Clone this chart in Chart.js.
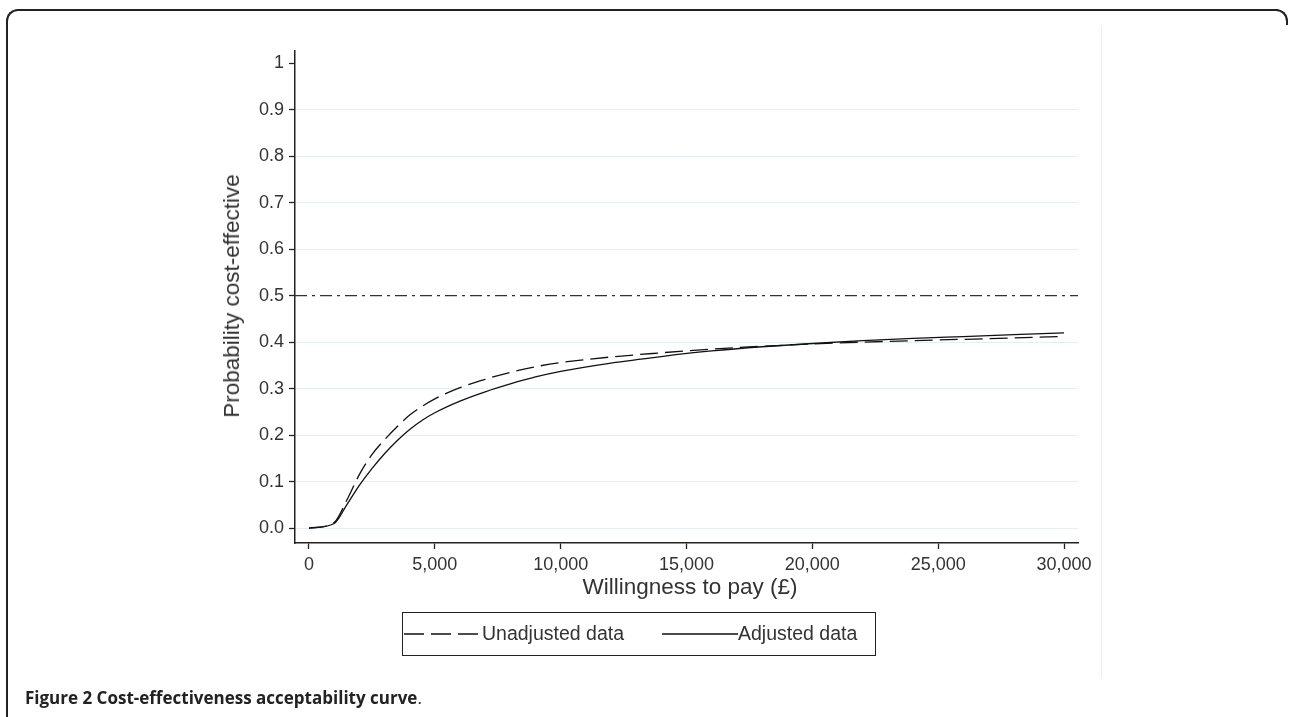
<!DOCTYPE html>
<html>
<head>
<meta charset="utf-8">
<script src="https://cdn.jsdelivr.net/npm/chart.js@4.4.1/dist/chart.umd.min.js"></script>
<style>
    body { margin: 0; background: #fff; width: 1290px; height: 717px; overflow: hidden; position: relative; font-family: "Liberation Sans", Arial, sans-serif; color: #333; }
    #frame { position: absolute; left: 6px; top: 9px; width: 1270px; height: 730px; border-top: 2px solid #222; border-left: 2px solid #222; border-top-left-radius: 12px; }
    #corner { position: absolute; left: 1272px; top: 9px; width: 14px; height: 14px; border-top: 2px solid #222; border-right: 2px solid #222; border-top-right-radius: 12px; }
    #region { position: absolute; left: 1101px; top: 26px; width: 1px; height: 652px; background: #e6eef2; }
    #wrap { position: absolute; left: 0; top: 0; width: 1290px; height: 717px; }
    .ytitle { position: absolute; left: 232px; top: 296px; transform: translate(-50%, -50%) rotate(-90deg); font-size: 22.5px; white-space: nowrap; }
    .xtitle { position: absolute; left: 690px; top: 587px; transform: translate(-50%, -50%); font-size: 22.5px; white-space: nowrap; }
    #legend { position: absolute; left: 402px; top: 612px; width: 474px; height: 44px; border: 1px solid #222; box-sizing: border-box; }
    #legend svg { position: absolute; top: 0; }
    #legend span { position: absolute; top: 9px; font-size: 19.5px; white-space: nowrap; }
    #caption { position: absolute; left: 25px; top: 686px; font-family: "Open Sans", sans-serif; font-size: 17px; color: #222; white-space: nowrap; }
    #caption b { font-weight: 700; }
</style>
</head>
<body>
<div id="frame"></div>
<div id="corner"></div>
<div id="region"></div>
<div id="wrap"><canvas id="chart-ceac"></canvas></div>
<div class="ytitle">Probability cost-effective</div>
<div class="xtitle">Willingness to pay (£)</div>
<div id="legend">
    <svg width="80" height="42" style="left:0"><line x1="1" y1="21" x2="78" y2="21" stroke="#111" stroke-width="1.3" stroke-dasharray="20 7"/></svg>
    <span style="left:79px">Unadjusted data</span>
    <svg width="80" height="42" style="left:259px"><line x1="0" y1="21" x2="76" y2="21" stroke="#111" stroke-width="1.3"/></svg>
    <span style="left:335px">Adjusted data</span>
</div>
<div id="caption"><b>Figure 2 Cost-effectiveness acceptability curve</b>.</div>

<script>
// Veriler (resimden okunan yaklaşık değerler)
const wtp        = [0, 1000, 1500, 2000, 2500, 3000, 3500, 4000, 4500, 5000, 6000, 7000, 8000, 9000, 10000, 12000, 14000, 16000, 18000, 20000, 22000, 24000, 26000, 28000, 30000];
const unadjusted = [0, 0.012, 0.06, 0.115, 0.158, 0.19, 0.218, 0.243, 0.262, 0.278, 0.302, 0.32, 0.335, 0.347, 0.356, 0.368, 0.377, 0.385, 0.391, 0.396, 0.400, 0.403, 0.406, 0.409, 0.412];
const adjusted   = [0, 0.01, 0.05, 0.092, 0.128, 0.16, 0.188, 0.212, 0.232, 0.248, 0.273, 0.293, 0.31, 0.325, 0.337, 0.355, 0.369, 0.381, 0.390, 0.397, 0.403, 0.408, 0.412, 0.416, 0.42];
const xTicks     = [0, 5000, 10000, 15000, 20000, 25000, 30000];
const yTicks     = [0, 0.1, 0.2, 0.3, 0.4, 0.5, 0.6, 0.7, 0.8, 0.9, 1];
const threshold  = 0.5;

// Eksen sınırları (Stata tarzı boşluk)
const xMin = -556, xMax = 30556;
const yMin = -0.032, yMax = 1.026;

const toPoints = (ys) => wtp.map((x, i) => ({ x: x, y: ys[i] }));

const ctx = document.getElementById('chart-ceac').getContext('2d');
new Chart(ctx, {
    type: 'line',
    data: {
        datasets: [
            { label: 'Unadjusted data', data: toPoints(unadjusted), borderColor: '#111', borderWidth: 1.3, borderDash: [18, 7], pointRadius: 0, cubicInterpolationMode: 'monotone', fill: false },
            { label: 'Adjusted data', data: toPoints(adjusted), borderColor: '#111', borderWidth: 1.3, pointRadius: 0, cubicInterpolationMode: 'monotone', fill: false },
            { label: 'Threshold', data: [{ x: xMin, y: threshold }, { x: xMax, y: threshold }], borderColor: '#333', borderWidth: 1.3, borderDash: [12, 5, 3, 5], pointRadius: 0, fill: false }
        ]
    },
    options: {
        responsive: true, maintainAspectRatio: false, animation: false,
        layout: { padding: { left: 235, right: 212, top: 51, bottom: 134 } },
        plugins: { legend: { display: false }, tooltip: { enabled: false } },
        scales: {
            x: {
                type: 'linear', min: xMin, max: xMax,
                afterBuildTicks: (s) => { s.ticks = xTicks.map(v => ({ value: v })); },
                afterFit: (s) => { s.height = 40; },
                grid: { drawOnChartArea: false, drawTicks: true, tickLength: 6, tickColor: '#222', tickWidth: 1.3 },
                border: { display: true, color: '#222', width: 1.5 },
                ticks: { autoSkip: false, maxRotation: 0, padding: 5, color: '#333', font: { family: 'Liberation Sans', size: 18 },
                         callback: (v) => v.toLocaleString('en-US') }
            },
            y: {
                type: 'linear', min: yMin, max: yMax,
                afterBuildTicks: (s) => { s.ticks = yTicks.map(v => ({ value: v })); },
                afterFit: (s) => { s.width = 60; },
                grid: {
                    tickLength: 6, tickColor: '#222', tickWidth: 1.3, lineWidth: 1,
                    color: (c) => (c.tick && (c.tick.value === 1 || c.tick.value === threshold)) ? 'rgba(0,0,0,0)' : '#e6eef1'
                },
                border: { display: true, color: '#222', width: 1.5 },
                ticks: { padding: 5, color: '#333', font: { family: 'Liberation Sans', size: 18 },
                         callback: (v) => v === 1 ? '1' : v.toFixed(1) }
            }
        }
    }
});
</script>
</body>
</html>
